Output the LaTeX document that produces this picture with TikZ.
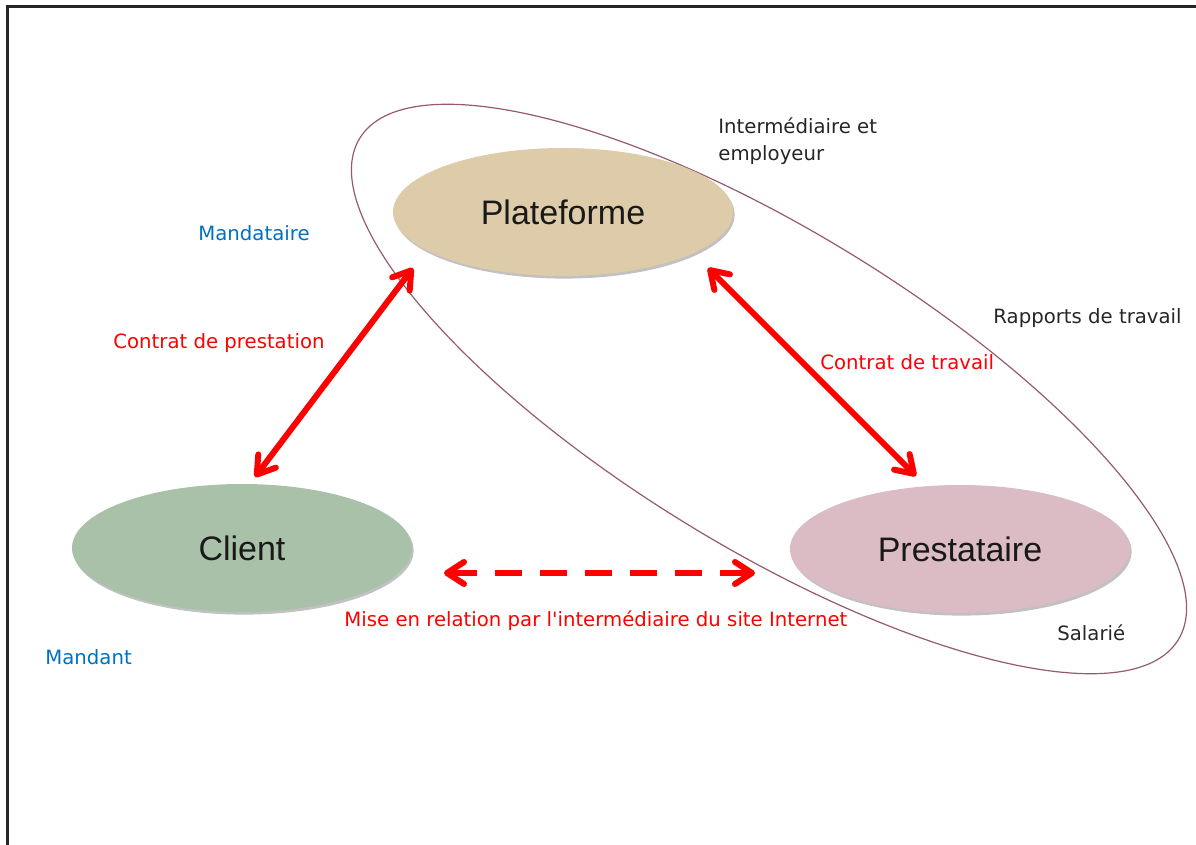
\documentclass[tikz,border=0pt]{standalone}
\usepackage{fontspec}
\setmainfont{Liberation Sans}
\newfontfamily\smallfont{DejaVu Sans}
\usetikzlibrary{arrows.meta,shadows,shapes.geometric}
\definecolor{platfill}{RGB}{221,203,170}
\definecolor{clientfill}{RGB}{168,193,168}
\definecolor{prestfill}{RGB}{219,187,196}
\definecolor{ringcol}{RGB}{150,90,110}
\definecolor{lblblue}{RGB}{0,112,192}
\definecolor{lblred}{RGB}{255,0,0}
\begin{document}
\begin{tikzpicture}[x=0.5pt,y=-0.5pt,
  bubble/.style={ellipse, minimum width=170pt, minimum height=64pt, inner sep=0pt,
    font=\fontsize{17}{20}\selectfont, text=black!90,
    drop shadow={shadow xshift=0.8pt, shadow yshift=-1.3pt, opacity=0.35, fill=black!70}},
  lbl/.style={anchor=west, font=\smallfont\fontsize{9.85}{13.5}\selectfont, inner sep=0pt, align=left},
  darklbl/.style={lbl, text=black!85},
  bluelbl/.style={lbl, text=lblblue},
  redlbl/.style={lbl, text=lblred},
  rel/.style={lblred, line width=3pt,
    {Straight Barb[length=8.5pt,width=11pt,round]}-{Straight Barb[length=8.5pt,width=11pt,round]}},
  reldash/.style={rel, dash pattern=on 13.5pt off 9pt},
  ring/.style={ringcol, line width=0.6pt},
  frame/.style={black!85, line width=1.3pt}
]
\useasboundingbox (0,0) rectangle (1196,845);
\draw[frame] (7.5,845) -- (7.5,6.5) -- (1196,6.5);

% outer grouping ring
\draw[ring, rotate around={-31.5:(769,389)}] (769,389) ellipse [x radius=480, y radius=158];

% main nodes
\node[bubble, fill=platfill] (plat) at (563,212) {Plateforme};
\node[bubble, fill=clientfill] (client) at (242,548) {Client};
\node[bubble, fill=prestfill] (prest) at (960,549) {Prestataire};

% connector end points
\coordinate (pcA) at (413,268);
\coordinate (pcB) at (255,477);
\coordinate (ppA) at (708,268);
\coordinate (ppB) at (916,476);
\coordinate (cpA) at (444,573);
\coordinate (cpB) at (755,573);

\draw[rel] (pcB) -- (pcA);
\draw[rel] (ppA) -- (ppB);
\draw[reldash] (cpA) -- (cpB);

% labels
\node[darklbl] (interm) at (718,141) {Intermédiaire et\\employeur};
\node[bluelbl] (mandataire) at (198,233) {Mandataire};
\node[redlbl] (cprest) at (113,343) {Contrat de prestation};
\node[darklbl] (rapports) at (993,318) {Rapports de travail};
\node[redlbl] (ctrav) at (820,362) {Contrat de travail};
\node[redlbl] (mise) at (344,621) {Mise en relation par l'intermédiaire du site Internet};
\node[darklbl] (salarie) at (1057,633) {Salarié};
\node[bluelbl] (mandant) at (45,657) {Mandant};
\end{tikzpicture}
\end{document}
